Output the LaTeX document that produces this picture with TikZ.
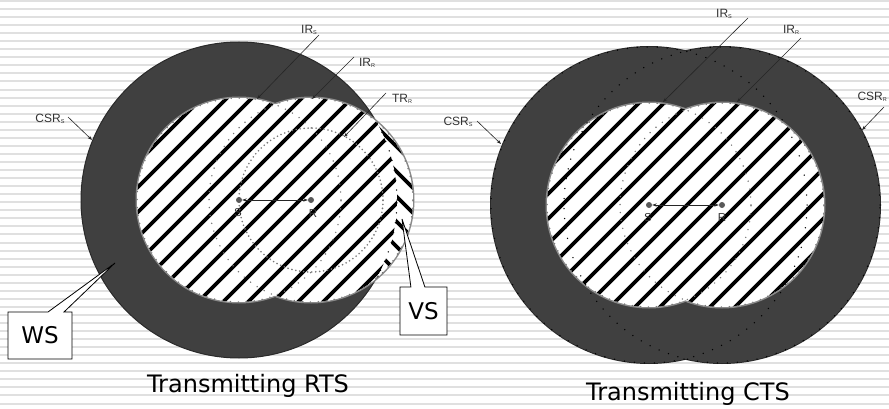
\documentclass[tikz,border=0pt]{standalone}
\usepackage{fontspec}
\setmainfont{Liberation Sans}
\newfontfamily\bigfont{DejaVu Sans}
\usetikzlibrary{arrows.meta,shapes.callouts}

\definecolor{ringfill}{HTML}{404040}
\definecolor{ringedge}{HTML}{2A2A2A}
\definecolor{holeedge}{HTML}{8A8A8A}
\definecolor{stripebg}{HTML}{E0E0E0}
\definecolor{labtext}{HTML}{333333}
\definecolor{dotgray}{HTML}{777777}

\newcommand\sub[1]{\raisebox{-1.6pt}{\fontsize{5.5}{6}\selectfont #1}}

\tikzset{
  bgline/.style={stripebg, line width=2pt},
  hatchline/.style={black, line width=3.6pt},
  irdot/.style={dotgray, line width=1.6pt, line cap=round, dash pattern=on 0pt off 8pt},
  trdot/.style={dotgray, line width=1.8pt, line cap=round, dash pattern=on 0pt off 4pt},
  csrdot/.style={black, line width=1.5pt, line cap=round, dash pattern=on 0pt off 10pt},
  lab/.style={inner sep=0pt, text=labtext, font=\fontsize{12}{12}\selectfont},
  ptlab/.style={inner sep=0pt, text=labtext, font=\fontsize{11.5}{12}\selectfont},
  leader/.style={draw=black!85, line width=0.6pt, -{Stealth[length=4.5pt,width=3.2pt]}},
  nodedot/.style={circle, fill=black!65, inner sep=0pt, minimum size=6pt},
  srline/.style={draw=black!85, line width=0.7pt, {Stealth[length=4.5pt,width=3.2pt]}-{Stealth[length=4.5pt,width=3.2pt]}},
  tag/.style={rectangle callout, draw=black, line width=0.8pt, fill=white,
    inner sep=0pt, font=\bigfont\fontsize{23}{24}\selectfont},
  title/.style={inner sep=0pt, font=\bigfont\fontsize{24}{26}\selectfont}
}

\begin{document}
\begin{tikzpicture}[x=1pt, y=-1pt]
\useasboundingbox (0,0) rectangle (889,409);

% striped backdrop
\fill[white] (0,0) rectangle (889,409);
\foreach \i in {0,...,50}
  \draw[bgline] (0,1+8.05*\i) -- (889,1+8.05*\i);

% ---------------- left: transmitting RTS ----------------
\coordinate (LS) at (239,200);
\coordinate (LR) at (311,200);

% carrier sense range of the sender
\filldraw[fill=ringfill, draw=ringedge, line width=1pt] (LS) circle[radius=158pt];

% interference ranges: outline, then white fill
\draw[holeedge, line width=3pt] (LS) circle[radius=102pt] (LR) circle[radius=102pt];
\fill[white] (LS) circle[radius=102pt] (LR) circle[radius=102pt];

% part of the receiver range beyond the sender's carrier sense range
\begin{scope}
  \clip (LR) circle[radius=102pt];
  \foreach \c in {-450,-425,...,900}
    \draw[hatchline] (\c-20,-20) -- (\c+430,430);
\end{scope}

% hatched area inside the sender's carrier sense range
\begin{scope}
  \clip (LS) circle[radius=102pt] (LR) circle[radius=102pt];
  \clip (LS) circle[radius=158pt];
  \fill[white] (0,0) rectangle (889,409);
  \foreach \c in {0,25,...,1325}
    \draw[hatchline] (\c+20,-20) -- (\c-430,430);
\end{scope}

% dotted range boundaries
\draw[irdot] (LS) circle[radius=102pt] (LR) circle[radius=102pt];
\begin{scope}
  \clip (LR) circle[radius=102pt];
  \draw[csrdot] (LS) circle[radius=158pt];
\end{scope}
\draw[trdot] (LR) circle[radius=72pt];

% sender and receiver
\node[nodedot] (ls) at (LS) {};
\node[nodedot] (lr) at (LR) {};
\draw[srline] (ls) -- (lr);
\node[ptlab] (lslab) at (238,213) {S};
\node[ptlab] (lrlab) at (313,214) {R};

% range labels
\node[lab] (lirs) at (309,30) {IR\sub{S}};
\coordinate (lirsA) at (319,35);
\coordinate (lirsB) at (257,99);
\draw[leader] (lirsA) -- (lirsB);

\node[lab] (lirr) at (367,63) {IR\sub{R}};
\coordinate (lirrA) at (354,57);
\coordinate (lirrB) at (312,99);
\draw[leader] (lirrA) -- (lirrB);

\node[lab] (ltrr) at (402,99) {TR\sub{R}};
\coordinate (ltrrA) at (386,93);
\coordinate (ltrrB) at (344,137);
\draw[leader] (ltrrA) -- (ltrrB);

\node[lab] (lcsrs) at (50,119) {CSR\sub{S}};
\coordinate (lcsrsA) at (68,117);
\coordinate (lcsrsB) at (92,140);
\draw[leader] (lcsrsA) -- (lcsrsB);

% callouts
\coordinate (wsP) at (115,263);
\node[tag, minimum width=64pt, minimum height=47pt,
      callout absolute pointer={(wsP)}, callout pointer width=16pt]
      (ws) at (40,335.5) {WS};
\coordinate (vsP) at (402,219);
\node[tag, minimum width=47pt, minimum height=48pt,
      callout absolute pointer={(vsP)}, callout pointer width=14pt]
      (vs) at (423.5,311) {VS};

\node[title] (rtstitle) at (248,386) {Transmitting RTS};

% ---------------- right: transmitting CTS ----------------
\coordinate (RS) at (649,205);
\coordinate (RR) at (722,205);

% carrier sense ranges of sender and receiver
\draw[ringedge, line width=2pt] (RS) circle[radius=158pt] (RR) circle[radius=158pt];
\fill[ringfill] (RS) circle[radius=158pt] (RR) circle[radius=158pt];

% interference ranges
\draw[holeedge, line width=3pt] (RS) circle[radius=102pt] (RR) circle[radius=102pt];
\fill[white] (RS) circle[radius=102pt] (RR) circle[radius=102pt];
\begin{scope}
  \clip (RS) circle[radius=102pt] (RR) circle[radius=102pt];
  \foreach \c in {0,25,...,1325}
    \draw[hatchline] (\c+12,-20) -- (\c-438,430);
\end{scope}

% dotted range boundaries
\draw[irdot] (RS) circle[radius=102pt] (RR) circle[radius=102pt];
\draw[csrdot] (RS) circle[radius=158pt] (RR) circle[radius=158pt];

% sender and receiver
\node[nodedot] (rs) at (RS) {};
\node[nodedot] (rr) at (RR) {};
\draw[srline] (rs) -- (rr);
\node[ptlab] (rslab) at (648,218) {S};
\node[ptlab] (rrlab) at (722,218) {R};

% range labels
\node[lab] (rirs) at (724,14) {IR\sub{S}};
\coordinate (rirsA) at (748,18);
\coordinate (rirsB) at (663,102);
\draw[leader] (rirsA) -- (rirsB);

\node[lab] (rirr) at (791,30) {IR\sub{R}};
\coordinate (rirrA) at (801,38);
\coordinate (rirrB) at (737,102);
\draw[leader] (rirrA) -- (rirrB);

\node[lab, anchor=east] (rcsrr) at (887,97) {CSR\sub{R}};
\coordinate (rcsrrA) at (884,107);
\coordinate (rcsrrB) at (862,130);
\draw[leader] (rcsrrA) -- (rcsrrB);

\node[lab] (rcsrs) at (458,122) {CSR\sub{S}};
\coordinate (rcsrsA) at (477,121);
\coordinate (rcsrsB) at (501,144);
\draw[leader] (rcsrsA) -- (rcsrsB);

\node[title] (ctstitle) at (688,394) {Transmitting CTS};
\end{tikzpicture}
\end{document}
